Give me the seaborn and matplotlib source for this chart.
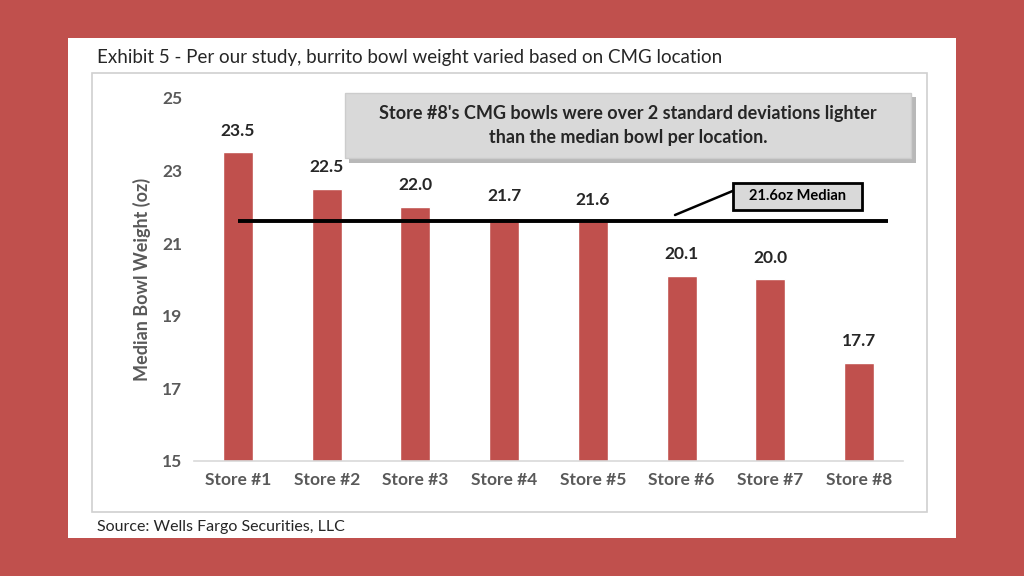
import numpy as np
import pandas as pd
import matplotlib
matplotlib.use("Agg")
import matplotlib.pyplot as plt
import seaborn as sns
from matplotlib.patches import Rectangle
from matplotlib.lines import Line2D

# Datos
stores = ["Store #1", "Store #2", "Store #3", "Store #4",
          "Store #5", "Store #6", "Store #7", "Store #8"]
weights = [23.5, 22.5, 22.0, 21.7, 21.6, 20.1, 20.0, 17.7]
median_val = 21.6
y_ticks = [15, 17, 19, 21, 23, 25]

title = "Exhibit 5 - Per our study, burrito bowl weight varied based on CMG location"
source = "Source: Wells Fargo Securities, LLC"
callout = "Store #8's CMG bowls were over 2 standard deviations lighter\nthan the median bowl per location."
median_label = "21.6oz Median"

red = "#C0504D"
gray_txt = "#595959"

sns.set_theme(style="white")
plt.rcParams["font.family"] = ["Lato", "DejaVu Sans"]

df = pd.DataFrame({"store": stores, "weight": weights})

fig = plt.figure(figsize=(10.24, 5.76), dpi=100)
fig.patch.set_facecolor(red)

# Panel blanco y marco interior (coordenadas en pixeles)
W, H = 1024, 576
def px_rect(x0, y0, x1, y1, **kw):
    return Rectangle((x0 / W, 1 - y1 / H), (x1 - x0) / W, (y1 - y0) / H,
                     transform=fig.transFigure, **kw)

fig.patches.append(px_rect(68, 38, 956, 538, facecolor="white", edgecolor="none", zorder=0))
fig.patches.append(px_rect(92, 73, 927, 512, facecolor="none", edgecolor="#D0D0D0", lw=1.2, zorder=0.5))

fig.text(97 / W, 1 - 58 / H, title, fontsize=13.5, color="#262626", va="center", ha="left")
fig.text(97 / W, 1 - 527 / H, source, fontsize=11.5, color="#262626", va="center", ha="left")

ax = fig.add_axes([193.6 / W, 1 - 461 / H, 709.8 / W, 363 / H])
ax.set_zorder(1)
ax.set_facecolor("none")
sns.barplot(data=df, x="store", y="weight", color=red, width=0.34,
            saturation=1, ax=ax, zorder=2)

ax.set_ylim(15, 25)
ax.set_xlim(-0.5, 7.5)
ax.set_yticks(y_ticks)
ax.set_xlabel("")
ax.set_ylabel("Median Bowl Weight (oz)", fontsize=13, fontweight="bold", color=gray_txt, labelpad=8)
ax.tick_params(axis="both", length=0, labelsize=12.5, labelcolor=gray_txt, pad=8)
for lab in ax.get_xticklabels() + ax.get_yticklabels():
    lab.set_fontweight("bold")
for s in ["top", "right", "left"]:
    ax.spines[s].set_visible(False)
ax.spines["bottom"].set_color("#D9D9D9")
ax.spines["bottom"].set_linewidth(1.2)

# Etiquetas de valor
for i, v in enumerate(weights):
    ax.annotate(f"{v:.1f}", (i, v), xytext=(0, 10), textcoords="offset points",
                ha="center", va="bottom", fontsize=12.5, fontweight="bold", color="#262626")

# Línea de la mediana
ax.plot([0, 7.33], [median_val, median_val], color="black", lw=2.8, zorder=3,
        solid_capstyle="butt")

# Caja de la mediana con conector
fig.lines.append(Line2D([675 / W, 735 / W], [1 - 215 / H, 1 - 190 / H],
                        transform=fig.transFigure, color="black", lw=1.8, zorder=4))
fig.patches.append(px_rect(733, 183, 862, 210, facecolor="#D9D9D9", edgecolor="black", lw=2, zorder=5))
fig.text(797.5 / W, 1 - 196.5 / H, median_label, fontsize=10.5, fontweight="bold", color="black",
         ha="center", va="center", zorder=6)

# Caja de texto con sombra
fig.patches.append(px_rect(349, 97, 916, 163, facecolor="#B8B8B8", edgecolor="none", zorder=4))
fig.patches.append(px_rect(345, 93, 911, 158, facecolor="#D9D9D9", edgecolor="#CCCCCC", lw=1, zorder=5))
fig.text(628 / W, 1 - 125.5 / H, callout, fontsize=13, fontweight="bold", color="#262626",
         ha="center", va="center", linespacing=1.45, zorder=6)

fig.savefig("out.png", dpi=100, facecolor=fig.get_facecolor())
